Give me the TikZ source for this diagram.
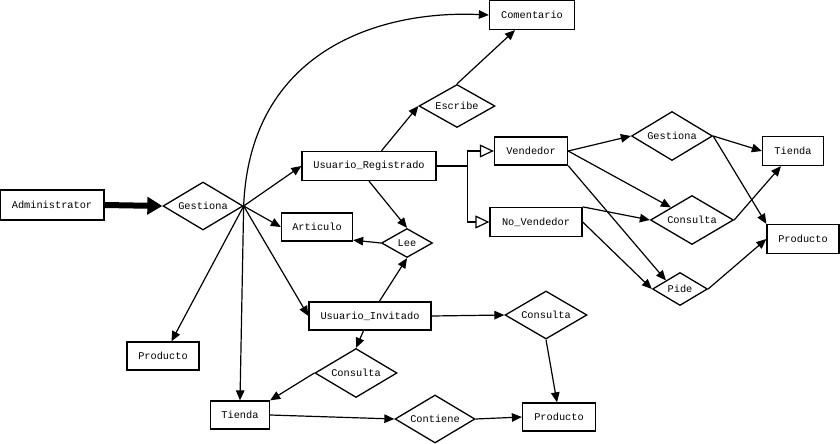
\documentclass[tikz,border=0pt]{standalone}
\usepackage{fontspec}
\setmonofont{Liberation Mono}
\usetikzlibrary{shapes.geometric,arrows.meta,calc}
\begin{document}
\begin{tikzpicture}[x=1pt,y=-1pt,
  lbl/.style={font=\ttfamily\fontsize{10.3}{12}\selectfont},
  ent/.style={lbl,draw,line width=1.3pt,fill=white,inner sep=0pt},
  rel/.style={lbl,draw,diamond,shape aspect=1.7,line width=1.3pt,fill=white,inner sep=0pt},
  conn/.style={line width=1.2pt,-{Triangle[length=10pt,width=8.5pt]}},
  plain/.style={line width=1.2pt},
  isa/.style={line width=1.2pt,-{Triangle[open,length=14pt,width=13pt,fill=white]}},
  thick arrow/.style={line width=6pt,-{Triangle[length=15pt,width=17pt]}}]
\useasboundingbox (0,0) rectangle (840,444);
\fill[white] (0,0) rectangle (840,444);
% entities
\node[ent,minimum width=104pt,minimum height=30pt] (Adm) at (52,205) {Administrator};
\node[ent,minimum width=85pt,minimum height=29pt] (Com) at (532,15) {Comentario};
\node[ent,minimum width=134pt,minimum height=29pt] (UR) at (369,166) {Usuario\_Registrado};
\node[ent,minimum width=71pt,minimum height=28pt] (Art) at (317,227) {Articulo};
\node[ent,minimum width=73pt,minimum height=28pt] (Ven) at (531,151) {Vendedor};
\node[ent,minimum width=92pt,minimum height=29pt] (NoV) at (536,222) {No\_Vendedor};
\node[ent,minimum width=61pt,minimum height=29pt] (Tie2) at (793,151) {Tienda};
\node[ent,minimum width=72pt,minimum height=29pt] (Pro2) at (803,239) {Producto};
\node[ent,minimum width=72pt,minimum height=28pt] (Pro1) at (163,356) {Producto};
\node[ent,minimum width=59pt,minimum height=28pt] (Tie1) at (240,415) {Tienda};
\node[ent,minimum width=122pt,minimum height=28pt] (UI) at (370,316) {Usuario\_Invitado};
\node[ent,minimum width=73pt,minimum height=28pt] (Pro3) at (559,417) {Producto};
% relationships
\node[rel,minimum width=80pt,minimum height=48pt] (G1) at (203,206) {Gestiona};
\node[rel,minimum width=76pt,minimum height=43pt] (Esc) at (457,106) {Escribe};
\node[rel,minimum width=51pt,minimum height=29pt] (Lee) at (407,243) {Lee};
\node[rel,minimum width=81pt,minimum height=49pt] (G2) at (672,136) {Gestiona};
\node[rel,minimum width=83pt,minimum height=49pt] (C2) at (692,220) {Consulta};
\node[rel,minimum width=55pt,minimum height=33pt] (Pide) at (680,289) {Pide};
\node[rel,minimum width=82pt,minimum height=49pt] (C1) at (356,373) {Consulta};
\node[rel,minimum width=80pt,minimum height=48pt] (Cont) at (435,419) {Contiene};
\node[rel,minimum width=82pt,minimum height=48pt] (C3) at (546,315) {Consulta};
% connectors
\draw[thick arrow] (Adm.east) -- (G1.west);
\draw[conn] (G1.east) .. controls (250,50) and (380,10) .. (Com.west);
\draw[conn] (G1.east) -- (UR.west);
\draw[conn] (G1.east) -- (Art.west);
\draw[conn] (G1.east) -- (UI.west);
\draw[conn] (G1.east) -- (Pro1.60);
\draw[conn] (G1.east) -- (Tie1.north);
\draw[conn] (UR) -- (Esc.west);
\draw[conn] (Esc.north) -- ([xshift=-17pt]Com.south);
\draw[conn] (UR.south) -- (Lee.north);
\draw[conn] (Lee.west) -- (Art.-20);
\draw[conn] (UI) -- (Lee.south);
\draw[conn] (UI) -- (C1.north);
\draw[conn] (C1.west) -- (Tie1.north east);
\draw[conn] (Tie1.east) -- (Cont.west);
\draw[conn] (Cont.east) -- (Pro3.west);
\draw[conn] (UI.east) -- (C3.west);
\draw[conn] (C3.south) -- ([xshift=-2pt]Pro3.north);
% inheritance
\draw[plain] (UR.east) -- ++(31,0) coordinate (j);
\draw[isa] (j) |- (Ven.west);
\draw[isa] (j) |- (NoV.west);
% right part
\draw[conn] (Ven.east) -- (G2.west);
\draw[conn] (Ven.east) -- (C2.north west);
\draw[conn] (Ven.south east) -- (Pide.north west);
\draw[conn] (NoV.north east) -- (C2.west);
\draw[conn] (NoV.east) -- (Pide.west);
\draw[conn] (G2.east) -- (Tie2.west);
\draw[conn] (G2.east) -- (Pro2.north west);
\draw[conn] (C2.east) -- ([xshift=-12pt]Tie2.south);
\draw[conn] (Pide.east) -- (Pro2.west);
\end{tikzpicture}
\end{document}
